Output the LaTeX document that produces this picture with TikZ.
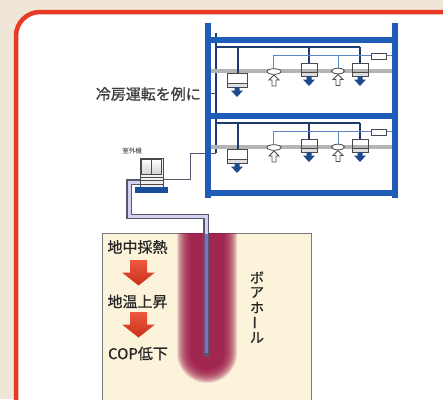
\documentclass[tikz,border=0pt]{standalone}
\usepackage{fontspec}
\setmainfont{Noto Sans CJK JP}
\newfontfamily\jpbold[FakeBold=0.9]{Noto Sans CJK JP}
\usetikzlibrary{shapes.geometric}

\definecolor{paper}{HTML}{F0E6D8}
\definecolor{framered}{HTML}{E63A25}
\definecolor{steel}{HTML}{1F5CB8}
\definecolor{navy}{HTML}{1C3B70}
\definecolor{lightline}{HTML}{5B87C5}
\definecolor{ceilgray}{HTML}{B4B4B4}
\definecolor{unitgray}{HTML}{4A4A4A}
\definecolor{coolblue}{HTML}{1D4A8A}
\definecolor{groundfill}{HTML}{FCF4DA}
\definecolor{groundedge}{HTML}{7A7A7A}
\definecolor{bore}{HTML}{9C1645}
\definecolor{pipeedge}{HTML}{55586A}
\definecolor{pipecore}{HTML}{D2D2F0}
\definecolor{pipedeep}{HTML}{7F70C8}
\definecolor{heatred}{HTML}{EC3A1E}
\definecolor{textdark}{HTML}{262626}

\tikzset{
  beam/.style={line width=5.5pt, draw=steel},
  ceiling/.style={line width=4pt, draw=ceilgray},
  mainpipe/.style={line width=1.1pt, draw=navy},
  subpipe/.style={line width=0.7pt, draw=lightline},
  outpipe/.style={line width=1pt, draw=pipeedge},
  unitline/.style={line width=0.8pt, draw=unitgray},
  label/.style={inner sep=0pt, text=textdark},
  bigtext/.style={label, font=\jpbold\fontsize{15}{15}\selectfont},
  vertext/.style={label, font=\jpbold\fontsize{14}{14}\selectfont},
}

% ceiling cassette with a cold-air arrow below it
\newcommand{\acbox}[4]{%
  \fill[gray!25] (#1,{#4-4}) rectangle (#3,#4);
  \draw[unitline] (#1,#2) rectangle (#3,#4);
  \draw[unitline] (#1,{#4-4}) -- (#3,{#4-4});
  \coolarrow{(#1+#3)/2}{#4}%
}
\newcommand{\coolarrow}[2]{%
  \fill[coolblue] ({#1-2.5},#2) -- ({#1+2.5},#2) -- ({#1+2.5},{#2+3.5})
    -- ({#1+6},{#2+3.5}) -- ({#1},{#2+10}) -- ({#1-6},{#2+3.5})
    -- ({#1-2.5},{#2+3.5}) -- cycle;
}
% hollow return-air arrow
\newcommand{\warmarrow}[2]{%
  \draw[unitline, fill=white] (#1,#2) -- ({#1+5},{#2+5}) -- ({#1+2},{#2+5})
    -- ({#1+2},{#2+11}) -- ({#1-2},{#2+11}) -- ({#1-2},{#2+5})
    -- ({#1-5},{#2+5}) -- cycle;
}
% big red process arrow: centre x, top y
\newcommand{\heatarrow}[2]{%
  \shade[top color=heatred!85!white, bottom color=heatred!85!black]
    ({#1-8.5},#2) -- ({#1+8.5},#2) -- ({#1+8.5},{#2+12.5}) -- ({#1+16.5},{#2+12.5})
    -- ({#1},{#2+25.5}) -- ({#1-16.5},{#2+12.5}) -- ({#1-8.5},{#2+12.5}) -- cycle;
}

\begin{document}
\begin{tikzpicture}[x=1pt, y=-1pt]
  \useasboundingbox (0,0) rectangle (443,399);
  \clip (0,0) rectangle (443,399);

  % page and frame
  \fill[paper] (0,0) rectangle (443,399);
  \draw[line width=4.5pt, draw=framered, fill=white, rounded corners=24pt]
    (16,12) rectangle (480,440);

  % ground block
  \draw[line width=1pt, draw=groundedge, fill=groundfill] (102,233) rectangle (311,420);

  % borehole, soft edged
  \foreach \w in {30,29,...,16}{
    \fill[bore, opacity=0.15] ({207-\w},233) -- ({207-\w},353)
      arc[start angle=180, end angle=0, radius=\w] -- ({207+\w},233) -- cycle;
  }

  % ground loop pipe
  \coordinate (loopA) at (140,182);
  \coordinate (loopB) at (129,182);
  \coordinate (loopC) at (129,216.5);
  \coordinate (loopD) at (206,216.5);
  \coordinate (loopE) at (206,353);
  \draw[line width=5.5pt, draw=pipeedge, line cap=rect, line join=miter]
    (loopA) -- (loopB) -- (loopC) -- (loopD) -- (loopE);
  \draw[line width=3pt, draw=pipecore, line join=miter]
    (loopA) -- (loopB) -- (loopC) -- (loopD) -- (loopE);
  \draw[line width=3pt, draw=pipedeep] (206,234) -- (loopE);

  % refrigerant line from the outdoor unit into the building
  \coordinate (refA) at (164,179);
  \coordinate (refB) at (190,179);
  \coordinate (refC) at (190,153);
  \coordinate (refD) at (216,153);
  \coordinate (riserTop) at (216,33);
  \draw[outpipe] (refA) -- (refB) -- (refC) -- (refD);
  \draw[mainpipe] (refD) -- (riserTop);

  % two floors of indoor units
  \foreach \dy in {0,76}{
    \begin{scope}[shift={(0,\dy)}]
      \draw[ceiling] (211,71) -- (392,71);
      \draw[mainpipe] (216,47) -- (360,47);
      \draw[mainpipe] (238,47) -- (238,73) (309,47) -- (309,63) (360,47) -- (360,63);
      \draw[subpipe] (273,55) -- (392,55) (273,55) -- (273,69) (338,55) -- (338,68.5);
      \draw[unitline, fill=white] (371,53) rectangle (386,59);
      \acbox{227}{73}{247}{87}
      \acbox{301}{63}{317}{76}
      \acbox{352}{63}{368}{76}
      \draw[unitline, fill=white] (274,71.5) ellipse [x radius=7, y radius=2.8];
      \warmarrow{274}{75}
      \draw[unitline, fill=white] (338,71) ellipse [x radius=6.5, y radius=2.8];
      \warmarrow{338}{74.5}
    \end{scope}
  }

  % building frame
  \draw[beam] (208,40) -- (394.5,40);
  \draw[beam] (208,116) -- (394.5,116);
  \draw[beam] (208,193) -- (394.5,193);
  \draw[line width=6pt, draw=steel] (208,22.5) -- (208,198);
  \draw[line width=6pt, draw=steel] (394.5,22.5) -- (394.5,198);

  % caption with leader tick
  \node[bigtext, anchor=east, text=textdark!90] (caption) at (201,94) {冷房運転を例に};
  \coordinate (tickEnd) at (216,93);
  \draw[line width=0.8pt, draw=unitgray] (211,93) -- (tickEnd);

  % outdoor unit
  \fill[gray!12] (140,158) rectangle (163,187);
  \shade[top color=white, bottom color=gray!35, draw=unitgray, line width=0.8pt] (141.5,159.5) rectangle (151.3,174);
  \shade[top color=white, bottom color=gray!35, draw=unitgray, line width=0.8pt] (151.7,159.5) rectangle (161.5,174);
  \draw[unitline] (140,158) rectangle (163,187);
  \draw[line width=0.6pt, draw=unitgray] (140,177) -- (163,177) (140,180.5) -- (163,180.5) (140,184) -- (163,184);
  \fill[steel!85!black] (135,187) rectangle (168,193);
  \node[label, font=\fontsize{6.5}{6.5}\selectfont] (odlabel) at (132,151.5) {室外機};

  % process chain in the ground
  \node[bigtext] (step1) at (137.5,247) {地中採熱};
  \heatarrow{138.5}{260}
  \node[bigtext] (step2) at (137.5,301.5) {地温上昇};
  \heatarrow{138.5}{312}
  \node[bigtext] (step3) at (138,353.5) {COP低下};

  % vertical label
  \node[vertext] (v1) at (257,277.5) {ボ};
  \node[vertext] (v2) at (257,292.5) {ア};
  \node[vertext] (v3) at (257,307.5) {ホ};
  \node[vertext] (v4) at (257,322.5) {\rotatebox[origin=c]{90}{ー}};
  \node[vertext] (v5) at (257,337.5) {ル};
\end{tikzpicture}
\end{document}
